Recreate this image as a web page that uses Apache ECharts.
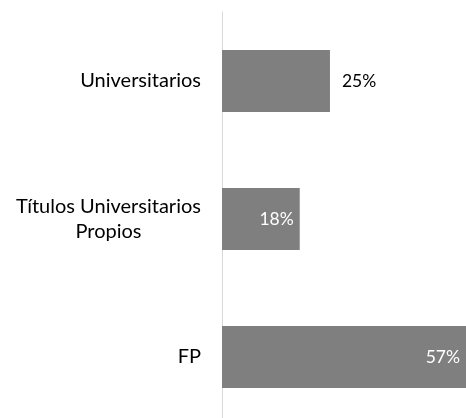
<!DOCTYPE html>
<html>
<head>
<meta charset="utf-8">
<script src="https://cdn.jsdelivr.net/npm/echarts@6/dist/echarts.min.js"></script>
<style>
  html, body { margin: 0; padding: 0; background: #fff; }
  #chart { width: 466px; height: 418px; }
</style>
</head>
<body>
<div id="chart"></div>
<script>
  // data
  const categories = ['Universitarios', 'Títulos Universitarios\nPropios', 'FP']
  const values = [25, 18, 57]

  const font = 'Lato, "Open Sans", sans-serif'

  const chart = echarts.init(document.getElementById('chart'))

  const outsideLabel = {
    show: true,
    position: 'right',
    distance: 12,
    color: '#000',
  }
  const insideLabel = {
    show: true,
    position: 'insideRight',
    distance: 6,
    color: '#fff',
  }

  chart.setOption({
    animation: false,
    textStyle: { fontFamily: font },
    grid: {
      left: 222,
      right: 0,
      top: 12,
      height: 414,
      outerBoundsMode: 'none',
    },
    xAxis: {
      type: 'value',
      min: 0,
      max: 56.5,
      show: false,
    },
    yAxis: {
      type: 'category',
      inverse: true,
      data: categories,
      axisTick: { show: false },
      axisLine: {
        lineStyle: { color: '#d9d9d9', width: 1 },
      },
      axisLabel: {
        margin: 21,
        fontSize: 20,
        color: '#000',
        fontFamily: font,
        lineHeight: 25,
        formatter: (v) => {
          if (v.indexOf('\n') < 0) return v
          return v.split('\n').map((s) => `{c|${s}}`).join('\n')
        },
        rich: {
          c: {
            width: 185,
            align: 'center',
            fontSize: 20,
            lineHeight: 25,
            color: '#000',
            fontFamily: font,
          },
        },
      },
    },
    series: [
      {
        type: 'bar',
        barCategoryGap: '55%',
        itemStyle: { color: '#7f7f7f' },
        label: {
          fontSize: 17.5,
          fontFamily: font,
          formatter: '{c}%',
        },
        data: values.map((v, i) => ({
          value: v,
          label: i === 0 ? outsideLabel : insideLabel,
        })),
      },
    ],
  })
</script>
</body>
</html>
